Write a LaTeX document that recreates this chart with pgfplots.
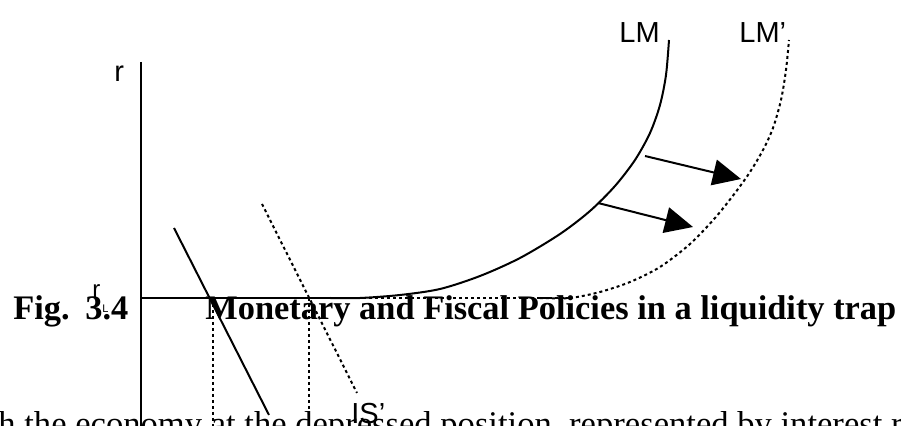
\documentclass[border=0pt]{standalone}
\usepackage{fontspec}
\usepackage{pgfplots}
\pgfplotsset{compat=1.18}
\usetikzlibrary{arrows.meta}
\setmainfont{Liberation Serif}
\newfontfamily\arialf{Liberation Sans}
\newfontfamily\timesf{Liberation Serif}
\begin{document}
\begin{tikzpicture}
\path[use as bounding box, clip] (0,0) rectangle (450.5pt,213pt);
\begin{axis}[
  at={(0,0)}, anchor=south west,
  scale only axis, width=450.5pt, height=213pt,
  xmin=0, xmax=901, ymin=0, ymax=426, y dir=reverse,
  axis lines=none, clip=false,
]
% body text (cut at bottom)
\node[anchor=base west, inner sep=0pt, font=\timesf\fontsize{17.3}{20}\selectfont] at (axis cs:-2,436) {h the economy at the depressed position, represented by interest rate};
% caption
\node[anchor=base west, inner sep=0pt, font=\timesf\bfseries\fontsize{17.2}{20}\selectfont] at (axis cs:13,320) {Fig.};
\node[anchor=base west, inner sep=0pt, font=\timesf\bfseries\fontsize{17.2}{20}\selectfont] at (axis cs:85,320) {3.4};
\node[anchor=base west, inner sep=0pt, font=\timesf\bfseries\fontsize{17.2}{20}\selectfont] at (axis cs:205,320) {Monetary and Fiscal Policies in a liquidity trap};
% labels
\node[anchor=base west, inner sep=0pt, font=\arialf\fontsize{14.5}{17}\selectfont] at (axis cs:114,82) {r};
\node[anchor=base west, inner sep=0pt, font=\arialf\fontsize{12}{14}\selectfont] at (axis cs:92,298) {r};
\node[anchor=base west, inner sep=0pt, font=\arialf\fontsize{5.5}{7}\selectfont] at (axis cs:102,313) {L};
\node[anchor=base west, inner sep=0pt, font=\arialf\fontsize{14.5}{17}\selectfont] at (axis cs:619,43) {LM};
\node[anchor=base west, inner sep=0pt, font=\arialf\fontsize{14.5}{17}\selectfont] at (axis cs:739,43) {LM’};
\node[anchor=base west, inner sep=0pt, font=\arialf\fontsize{14.5}{17}\selectfont] at (axis cs:351,424) {IS’};
% vertical axis
\addplot[black, line width=1pt] coordinates {(141,62) (141,440)};
% dotted verticals
\addplot[black, line width=1pt, dash pattern=on 1.5pt off 1.5pt] coordinates {(213,298) (213,440)};
\addplot[black, line width=1pt, dash pattern=on 1.5pt off 1.5pt] coordinates {(309,298) (309,440)};
% LM' (flat part + curve)
\addplot[black, line width=1pt, dash pattern=on 1.5pt off 1.5pt] coordinates {(141,298) (570,298)};
\addplot[black, line width=1pt, dash pattern=on 1.5pt off 1.5pt, smooth] coordinates {
(540,298) (570,298) (600,292) (630,282) (660,267) (690,244) (715,218) (735,193) (750,172) (763,150) (773,128) (781,100) (786,70) (789,40)};
% LM (flat part + curve)
\addplot[black, line width=1pt] coordinates {(141,298) (360,298)};
\addplot[black, line width=1pt, smooth] coordinates {
(330,298) (360,298) (400,295) (440,289) (480,276) (520,258) (560,234) (590,211) (615,186) (635,160) (650,133) (660,105) (666,75) (669,40)};
% IS
\addplot[black, line width=1pt] coordinates {(174,228) (269,415)};
% IS'
\addplot[black, line width=1pt, dash pattern=on 1.5pt off 1.5pt] coordinates {(262,204) (357,393)};
% arrows
\addplot[black, line width=1pt, -{Triangle[length=14pt,width=13pt]}] coordinates {(645,156) (741,179)};
\addplot[black, line width=1pt, -{Triangle[length=14pt,width=13pt]}] coordinates {(598,203) (693,227)};
\end{axis}
\end{tikzpicture}
\end{document}
